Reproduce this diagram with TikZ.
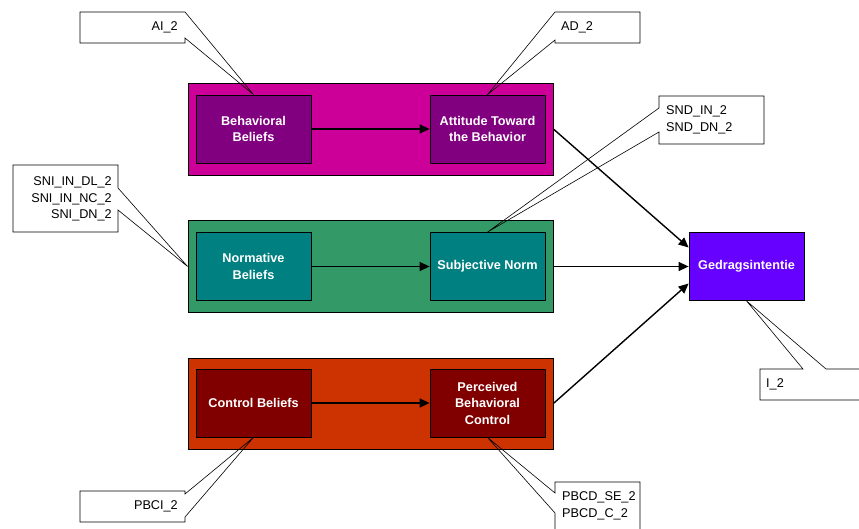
\documentclass[tikz,border=0pt]{standalone}
\usepackage{fontspec}
\setmainfont{Liberation Sans}
\usetikzlibrary{arrows.meta}
\definecolor{grpA}{HTML}{CC0099}
\definecolor{boxA}{HTML}{800080}
\definecolor{grpB}{HTML}{339966}
\definecolor{boxB}{HTML}{008080}
\definecolor{grpC}{HTML}{CC3300}
\definecolor{boxC}{HTML}{800000}
\definecolor{intent}{HTML}{6600FF}
\tikzset{
  group/.style={draw=black, line width=0.8pt, minimum width=365pt, minimum height=92pt, inner sep=0pt},
  construct/.style={draw=black, line width=0.8pt, minimum width=115pt, minimum height=68pt, inner sep=0pt,
    text=white, font=\fontsize{12.7}{16.5}\selectfont\bfseries, align=center},
  flow/.style={line width=1.4pt, -{Triangle[length=10pt,width=9pt]}},
  callout/.style={draw=black, line width=0.6pt},
  calltext/.style={font=\fontsize{12.7}{16.5}\selectfont, inner sep=0pt, text=black}
}
\begin{document}
\begin{tikzpicture}[x=1pt, y=-1pt]
\useasboundingbox (0,0) rectangle (859,529);

% construct groups
\node[group, fill=grpA] (topgrp) at (370.5,129) {};
\node[group, fill=grpB] (midgrp) at (370.5,266.5) {};
\node[group, fill=grpC, minimum height=91pt] (botgrp) at (370.5,403.5) {};

% constructs
\node[construct, fill=boxA] (bb) at (253.5,129) {Behavioral\\Beliefs};
\node[construct, fill=boxA] (atb) at (487.5,129) {Attitude Toward\\the Behavior};
\node[construct, fill=boxB] (nb) at (253.5,266.5) {Normative\\Beliefs};
\node[construct, fill=boxB] (sn) at (487.5,266.5) {Subjective Norm};
\node[construct, fill=boxC] (cb) at (253.5,403) {Control Beliefs};
\node[construct, fill=boxC] (pbc) at (487.5,403) {Perceived\\Behavioral\\Control};
\node[construct, fill=intent] (ged) at (746.5,266.5) {Gedragsintentie};

% paths within groups
\draw[flow] (bb.east) -- (atb.west);
\draw[flow] (nb.east) -- (sn.west);
\draw[flow] (cb.east) -- (pbc.west);

% paths to the intention
\draw[flow] (topgrp.east) -- ([yshift=19pt]ged.west);
\draw[flow] (midgrp.east) -- (ged.west);
\draw[flow] (botgrp.east) -- ([yshift=-17pt]ged.west);

% indicator callouts
\fill[white] (80,12) rectangle (185,43);
\draw[callout] (80,12) -- (185,12) -- (bb.north) -- (185,38) -- (185,43) -- (80,43) -- cycle;
\node[calltext, anchor=east] (ai) at (178,27.5) {AI\_2};

\fill[white] (555,12) rectangle (640,43);
\draw[callout] (640,12) -- (555,12) -- (atb.north) -- (555,40) -- (555,43) -- (640,43) -- cycle;
\node[calltext, anchor=west] (ad) at (561,27.5) {AD\_2};

\fill[white] (13,165) rectangle (118,232);
\draw[callout] (13,165) -- (118,165) -- (118,188) -- (midgrp.west) -- (118,210) -- (118,232) -- (13,232) -- cycle;
\node[calltext, anchor=east, align=right] (sni) at (112,199) {SNI\_IN\_DL\_2\\SNI\_IN\_NC\_2\\SNI\_DN\_2};

\fill[white] (659,96) rectangle (764,144);
\draw[callout] (764,96) -- (659,96) -- (659,108) -- (sn.north) -- (659,132) -- (659,144) -- (764,144) -- cycle;
\node[calltext, anchor=west, align=left] (snd) at (666,120) {SND\_IN\_2\\SND\_DN\_2};

\fill[white] (760,369) rectangle (862,400);
\draw[callout] (760,369) -- (803,369) -- (ged.south) -- (826,369) -- (862,369) -- (862,400) -- (760,400) -- cycle;
\node[calltext, anchor=west] (itext) at (766,384.5) {I\_2};

\fill[white] (80,491) rectangle (185,522);
\draw[callout] (80,491) -- (185,491) -- (185,494) -- (cb.south) -- (185,517) -- (185,522) -- (80,522) -- cycle;
\node[calltext, anchor=east] (pbci) at (178,506.5) {PBCI\_2};

\fill[white] (555,482) rectangle (640,535);
\draw[callout] (640,482) -- (555,482) -- (555,493) -- (pbc.south) -- (555,513) -- (555,535) -- (640,535) -- cycle;
\node[calltext, anchor=west, align=left] (pbcd) at (562,506) {PBCD\_SE\_2\\PBCD\_C\_2};
\end{tikzpicture}
\end{document}
